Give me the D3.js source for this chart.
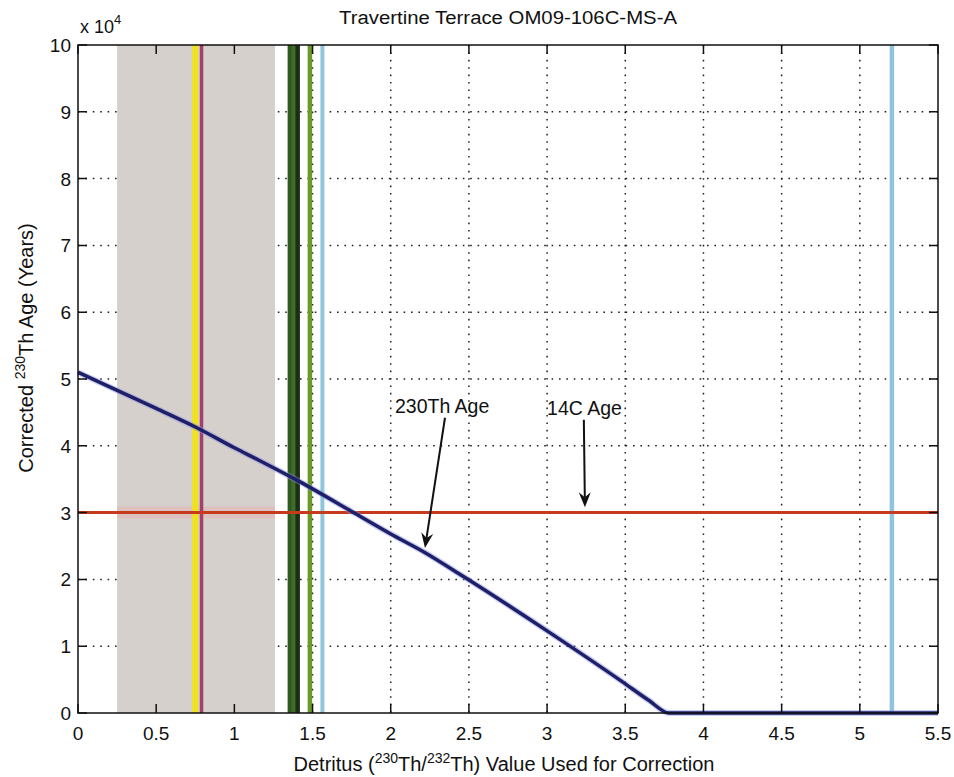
<!DOCTYPE html>
<html>
<head>
<meta charset="utf-8">
<script src="https://cdn.jsdelivr.net/npm/d3@7"></script>
<style>
  body { margin: 0; background: #fff; }
  text { font-family: "Liberation Sans", Arial, sans-serif; fill: #111; }
</style>
</head>
<body>
<div class="chart"></div>
<script>
// data
const xTicks = [0, 0.5, 1, 1.5, 2, 2.5, 3, 3.5, 4, 4.5, 5, 5.5]
const yTicks = [0, 10000, 20000, 30000, 40000, 50000, 60000, 70000, 80000, 90000, 100000]
const yTickLabels = ['0', '1', '2', '3', '4', '5', '6', '7', '8', '9', '10']

// corrected 230Th age curve
const ageX = [0, 0.5, 0.76, 1.0, 1.16, 1.42, 1.77, 2.0, 2.22, 2.46, 3.0, 3.48, 3.65, 3.78, 4.2, 5.5]
const ageY = [51000, 45600, 42700, 39700, 37800, 34600, 29900, 26800, 24000, 20500, 12300, 4700, 1900, 0, 0, 0]

// 14C age
const c14Age = 30000

// shaded detritus range
const bandX = [0.25, 1.26]

// detritus ratio lines
const lineX = [0.75, 0.79, 1.355, 1.38, 1.405, 1.483, 1.563, 5.205]
const lineColor = ['#f0e31e', '#a33f6c', '#2f5a20', '#3f6e2a', '#1d2d16', '#6a9a28', '#8fc6dd', '#8fc6dd']
const lineWidth = [6, 3.5, 4.5, 4.5, 4.5, 4.5, 4, 4.5]

// annotations
const notes = ['230Th Age', '14C Age']
const noteText = [[2.027, 44900], [3.0, 44600]]
const noteFrom = [[2.347, 44200], [3.235, 43900]]
const noteTo = [[2.219, 24700], [3.242, 30800]]

let margin = { top: 45, right: 16, bottom: 64, left: 78 },
width = 954 - margin.left - margin.right,
height = 777 - margin.top - margin.bottom

let svg = d3.select('.chart')
.append('svg')
.attr('width', 954)
.attr('height', 777)

let g = svg.append('g')
.attr('transform', 'translate(' + margin.left + ',' + margin.top + ')')

const x = d3.scaleLinear().domain([0, 5.5]).range([0, width])
const y = d3.scaleLinear().domain([0, 100000]).range([height, 0])

// dotted grid
g.append('g').selectAll('line')
.data(xTicks.slice(1, -1))
.join('line')
.attr('x1', d => x(d)).attr('x2', d => x(d))
.attr('y1', 0).attr('y2', height)
.attr('stroke', '#222').attr('stroke-width', 1.5)
.attr('stroke-dasharray', '1.6,5.8')

g.append('g').selectAll('line')
.data(yTicks.slice(1, -1))
.join('line')
.attr('y1', d => y(d)).attr('y2', d => y(d))
.attr('x1', 0).attr('x2', width)
.attr('stroke', '#222').attr('stroke-width', 1.5)
.attr('stroke-dasharray', '1.6,5.8')

// shaded band
g.append('rect')
.attr('x', x(bandX[0]))
.attr('width', x(bandX[1]) - x(bandX[0]))
.attr('y', 0)
.attr('height', height)
.attr('fill', '#d6d0cd')

// pinkish glow of the red line inside the band
g.append('line')
.attr('x1', x(bandX[0])).attr('x2', x(bandX[1]))
.attr('y1', y(c14Age)).attr('y2', y(c14Age))
.attr('stroke', '#e9a8a4').attr('stroke-width', 12).attr('opacity', 0.35)

// vertical lines
g.append('g').selectAll('line')
.data(lineX)
.join('line')
.attr('x1', d => x(d)).attr('x2', d => x(d))
.attr('y1', 0).attr('y2', height)
.attr('stroke', (d, i) => lineColor[i])
.attr('stroke-width', (d, i) => lineWidth[i])

// 14C line
g.append('line')
.attr('x1', 0).attr('x2', width)
.attr('y1', y(c14Age)).attr('y2', y(c14Age))
.attr('stroke', '#c63a1e').attr('stroke-width', 3)

// age curve
const line = d3.line().x(d => x(d[0])).y(d => y(d[1])).curve(d3.curveMonotoneX)
const pts = ageX.map((d, i) => [d, ageY[i]])
g.append('path')
.datum(pts)
.attr('d', line)
.attr('fill', 'none')
.attr('stroke', '#8c90d8').attr('stroke-width', 6).attr('opacity', 0.45)
g.append('path')
.datum(pts)
.attr('d', line)
.attr('fill', 'none')
.attr('stroke', '#1d1f6a').attr('stroke-width', 3.5)

// axes box with inside ticks
g.append('rect')
.attr('width', width).attr('height', height)
.attr('fill', 'none').attr('stroke', '#111').attr('stroke-width', 1.5)

const tl = 9
g.append('g').selectAll('path')
.data(xTicks)
.join('path')
.attr('d', d => 'M' + x(d) + ',' + height + 'v' + (-tl) + 'M' + x(d) + ',0v' + tl)
.attr('stroke', '#111').attr('stroke-width', 1.5)

g.append('g').selectAll('path')
.data(yTicks)
.join('path')
.attr('d', d => 'M0,' + y(d) + 'h' + tl + 'M' + width + ',' + y(d) + 'h' + (-tl))
.attr('stroke', '#111').attr('stroke-width', 1.5)

// tick labels
g.append('g').selectAll('text')
.data(xTicks)
.join('text')
.attr('x', d => x(d))
.attr('y', height + 27)
.attr('text-anchor', 'middle')
.style('font-size', '19px')
.text(d => d)

g.append('g').selectAll('text')
.data(yTicks)
.join('text')
.attr('x', -7)
.attr('y', d => y(d) + 7)
.attr('text-anchor', 'end')
.style('font-size', '19px')
.text((d, i) => yTickLabels[i])

// exponent
let ex = svg.append('text')
.attr('x', 80).attr('y', 33)
.style('font-size', '18px')
ex.append('tspan').text('x 10')
ex.append('tspan').attr('dy', -9).style('font-size', '13px').text('4')

// title
svg.append('text')
.attr('x', 508).attr('y', 24)
.attr('text-anchor', 'middle')
.attr('textLength', 338)
.attr('lengthAdjust', 'spacingAndGlyphs')
.style('font-size', '18px')
.text('Travertine Terrace OM09-106C-MS-A')

// x label
let xl = svg.append('text')
.attr('x', 504).attr('y', 771)
.attr('text-anchor', 'middle')
.style('font-size', '20px')
xl.append('tspan').text('Detritus (')
xl.append('tspan').attr('dy', -8).style('font-size', '14px').text('230')
xl.append('tspan').attr('dy', 8).text('Th/')
xl.append('tspan').attr('dy', -8).style('font-size', '14px').text('232')
xl.append('tspan').attr('dy', 8).text('Th) Value Used for Correction')

// y label
let yl = svg.append('text')
.attr('transform', 'translate(33,' + 348 + ') rotate(-90)')
.attr('text-anchor', 'middle')
.style('font-size', '20px')
yl.append('tspan').text('Corrected ')
yl.append('tspan').attr('dy', -8).style('font-size', '14px').text('230')
yl.append('tspan').attr('dy', 8).text('Th Age (Years)')

// annotations
notes.forEach((n, i) => {
  g.append('text')
  .attr('x', x(noteText[i][0])).attr('y', y(noteText[i][1]))
  .style('font-size', '19.5px')
  .text(n)

  const x0 = x(noteFrom[i][0]), y0 = y(noteFrom[i][1])
  const x1 = x(noteTo[i][0]), y1 = y(noteTo[i][1])
  const a = Math.atan2(y1 - y0, x1 - x0)
  const hl = 15, hw = 6, back = 10
  const bx = x1 - back * Math.cos(a), by = y1 - back * Math.sin(a)
  g.append('line')
  .attr('x1', x0).attr('y1', y0).attr('x2', bx).attr('y2', by)
  .attr('stroke', '#111').attr('stroke-width', 2)
  const p = (l, w) => [x1 - l * Math.cos(a) - w * Math.sin(a), y1 - l * Math.sin(a) + w * Math.cos(a)]
  const h = [[x1, y1], p(hl, hw), [bx, by], p(hl, -hw)]
  g.append('path')
  .attr('d', 'M' + h.map(q => q.join(',')).join('L') + 'Z')
  .attr('fill', '#111')
})
</script>
</body>
</html>
